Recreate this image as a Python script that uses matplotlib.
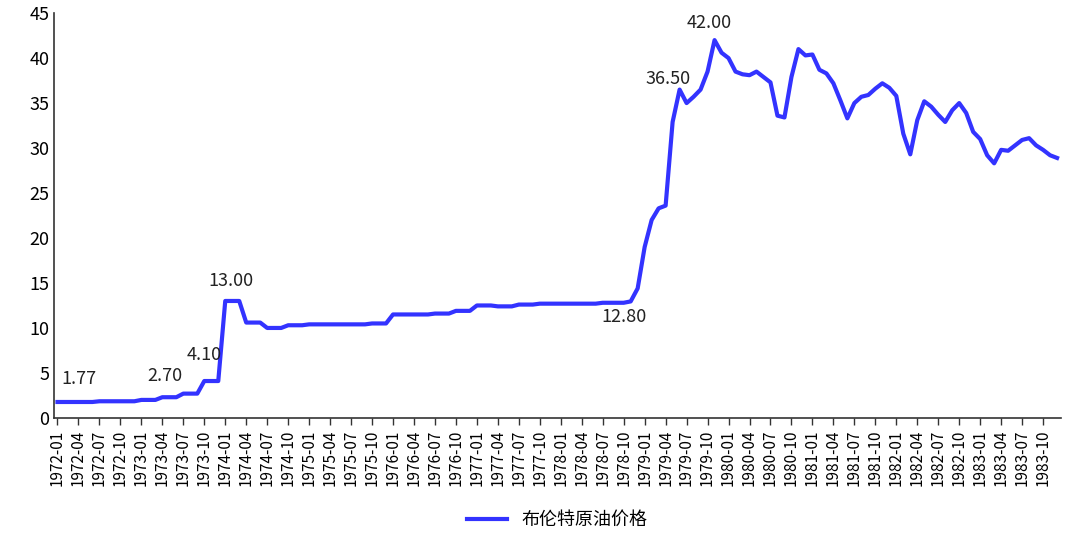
import matplotlib
matplotlib.use("Agg")
import matplotlib.pyplot as plt
import numpy as np

plt.rcParams['font.family'] = ['Noto Sans CJK SC', 'DejaVu Sans']

# monthly Brent prices 1972-01 .. 1983-12
early = ([1.77]*6 + [1.85]*6 + [2.0]*3 + [2.3]*3 + [2.7]*3 + [4.1]*3 + [13.0]*3 +
         [10.6]*3 + [10.0]*3 + [10.3]*3 + [10.4]*9 + [10.5]*3 + [11.5]*6 + [11.6]*3 +
         [11.9]*3 + [12.5]*3 + [12.4]*3 + [12.6]*3 + [12.7]*9 + [12.8]*4)
late = [12.95,14.4,19.0,22.0,23.3,23.6,32.9,36.5,35.0,35.7,
        36.5,38.5,42.0,40.6,40.0,38.5,38.2,38.1,38.5,37.9,
        37.3,33.6,33.4,37.9,41.0,40.3,40.4,38.7,38.3,37.2,
        35.3,33.3,35.0,35.7,35.9,36.6,37.2,36.7,35.8,31.6,
        29.3,33.1,35.2,34.6,33.7,32.9,34.2,35.0,33.9,31.8,
        31.0,29.2,28.3,29.8,29.7,30.3,30.9,31.1,30.3,29.8,
        29.2,28.9]
prices = early + late
months = [f"{y}-{m:02d}" for y in range(1972, 1984) for m in range(1, 13)]
tick_labels = months[::3]
annots = [(3, "1.77"), (19, "2.70"), (21, "4.10"), (24, "13.00"), (81, "12.80"), (89, "36.50"), (94, "42.00")]
annot_offsets = {"1.77": (0, 10), "2.70": (-18, 6), "4.10": (0, 12), "13.00": (4, 8),
                 "12.80": (0, -4), "36.50": (-8, 1), "42.00": (-4, 6)}

fig = plt.figure(figsize=(10.8, 5.47), dpi=100)
ax = fig.add_axes([0.050, 0.236, 0.932, 0.740])
x = np.arange(len(prices))
ax.plot(x, prices, color='#3333FF', lw=3, label='布伦特原油价格', solid_joinstyle='round')
ax.set_xlim(-0.5, len(prices) - 0.5)
ax.set_ylim(0, 45)
ax.set_yticks(range(0, 46, 5))
ax.set_xticks(x[::3])
ax.set_xticklabels(tick_labels, rotation=90, fontsize=11)
ax.tick_params(axis='y', labelsize=13, length=0)
ax.tick_params(axis='x', direction='out', length=5, width=1, color='#333333')
for s in ['top', 'right']:
    ax.spines[s].set_visible(False)
for s in ['left', 'bottom']:
    ax.spines[s].set_color('#333333')
    ax.spines[s].set_linewidth(1.2)

for i, t in annots:
    dx, dy = annot_offsets[t]
    ax.annotate(t, (i, prices[i]), xytext=(dx, dy), textcoords='offset points',
                ha='center', va='bottom' if dy > 0 else 'top', fontsize=13, color='#222222')

ax.legend(loc='center', bbox_to_anchor=(0.5, -0.252), frameon=False, fontsize=13,
          handlelength=2.2)
fig.savefig('out.png', dpi=100)
